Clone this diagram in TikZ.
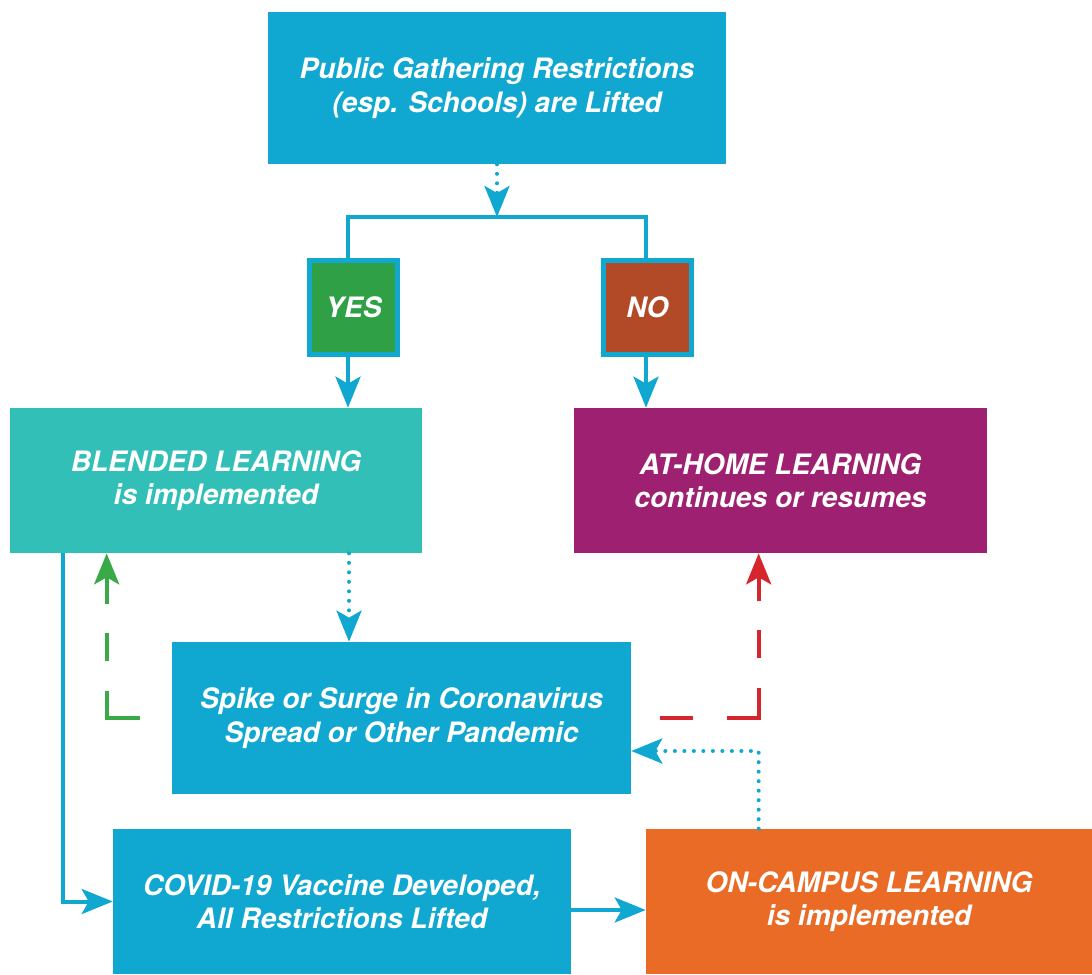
\documentclass[tikz,border=0pt]{standalone}
\usepackage{fontspec}
\setmainfont{TeX Gyre Heros}
\usetikzlibrary{arrows.meta}

\definecolor{flowblue}{HTML}{10A8D0}
\definecolor{yesgreen}{HTML}{30A047}
\definecolor{nobrown}{HTML}{B34A27}
\definecolor{blendteal}{HTML}{31BFB8}
\definecolor{homepurple}{HTML}{9D2170}
\definecolor{campusorange}{HTML}{E96B26}
\definecolor{dashgreen}{HTML}{3AAA48}
\definecolor{dashred}{HTML}{D4262C}

\tikzset{
  box/.style={text=white,align=center,inner sep=6pt,font=\bfseries\itshape\fontsize{16pt}{19pt}\selectfont},
  flow/.style={line width=0.08cm,draw=flowblue},
  flowtip/.style={-{Stealth[length=0.62cm,width=0.5cm,inset=0.14cm]}},
  dots/.style={flow,line cap=round,dash pattern=on 0pt off 0.19cm},
}

\begin{document}
\begin{tikzpicture}[x=0.02cm,y=-0.02cm]
            \useasboundingbox (0,0) rectangle (1092,974);

            \node[box,fill=flowblue,minimum width=9.16cm,minimum height=3.04cm] (A) at (497,88) {Public Gathering Restrictions\\(esp. Schools) are Lifted};
            \node[box,fill=yesgreen,draw=flowblue,line width=0.1cm,minimum width=1.76cm,minimum height=1.88cm] (Y) at (353.5,307.5) {YES};
            \node[box,fill=nobrown,draw=flowblue,line width=0.1cm,minimum width=1.76cm,minimum height=1.88cm] (N) at (647.5,307.5) {NO};
            \node[box,fill=blendteal,minimum width=8.24cm,minimum height=2.9cm] (B) at (216,480.5) {BLENDED LEARNING\\is implemented};
            \node[box,fill=homepurple,minimum width=8.26cm,minimum height=2.9cm] (C) at (780.5,480.5) {AT-HOME LEARNING\\continues or resumes};
            \node[box,fill=flowblue,minimum width=9.18cm,minimum height=3.04cm] (D) at (401.5,718) {Spike or Surge in Coronavirus\\Spread or Other Pandemic};
            \node[box,fill=flowblue,minimum width=9.16cm,minimum height=2.9cm] (E) at (342,901.5) {COVID-19 Vaccine Developed,\\All Restrictions Lifted};
            \node[box,fill=campusorange,minimum width=8.92cm,minimum height=2.9cm] (F) at (869,901.5) {ON-CAMPUS LEARNING\\is implemented};
            \coordinate (S) at (497,217);

            \draw[dots,flowtip] (A) -- (S);
            \draw[flow] ([xshift=-0.11cm]Y.north) |- (S) -| ([xshift=-0.03cm]N.north);
            \draw[flow,flowtip] ([xshift=-0.11cm]Y.south) -- ([xshift=-0.11cm]Y.south |- B.north);
            \draw[flow,flowtip] ([xshift=-0.03cm]N.south) -- ([xshift=-0.03cm]N.south |- C.north);
            \draw[flow,flowtip] ([xshift=1.06cm]B.south west) |- (E.west);
            \draw[dots,flowtip] ([xshift=-0.09cm]Y |- B.south) -- ([xshift=-0.09cm]Y |- D.north);
            \draw[line width=0.08cm,draw=dashgreen,dash pattern=on 1.2cm off 0.6cm on 0.56cm off 0.58cm on 3cm,flowtip] ([xshift=-0.64cm]D.west) -| ([xshift=1.94cm]B.south west);
            \draw[line width=0.08cm,draw=dashred,dash pattern=on 0.66cm off 0.68cm on 1.22cm off 0.6cm on 0.56cm off 0.58cm on 3cm,flowtip] ([xshift=0.58cm]D.east) -| ([xshift=3.7cm]C.south west);
            \draw[dots,flowtip] ([xshift=2.26cm]F.north west) |- ([yshift=-0.66cm]D.east);
            \draw[flow,flowtip] ([yshift=-0.17cm]E.east) -- ([yshift=-0.17cm]F.west);

        \end{tikzpicture}
\end{document}
